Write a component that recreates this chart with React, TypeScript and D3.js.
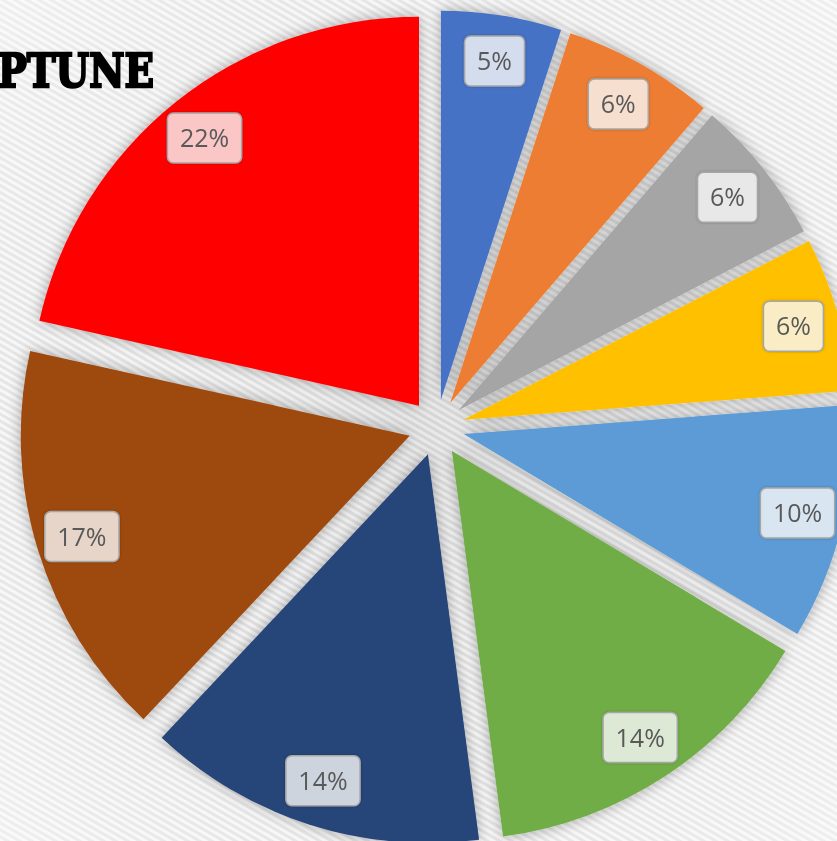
import React, { useEffect, useRef } from "react";
import * as d3 from "d3";

const categories = ["Slice 1", "Slice 2", "Slice 3", "Slice 4", "Slice 5", "Slice 6", "Slice 7", "Slice 8", "Slice 9"];
const values = [5.0, 6.3, 6.1, 6.4, 9.8, 14.3, 14.1, 16.5, 21.5];
const labels = ["5%", "6%", "6%", "6%", "10%", "14%", "14%", "17%", "22%"];
const colors = ["#4472C4", "#ED7D31", "#A5A5A5", "#FFC000", "#5B9BD5", "#70AD47", "#264478", "#9E480E", "#FF0000"];
const title = "NEPTUNE";

const W = 837;
const H = 841;
const CX = 436.5;
const CY = 427.5;
const R = 389;
const EXPLODE = 28;
const LABEL_R = 343;

export default function App() {
  const ref = useRef<SVGSVGElement | null>(null);

  useEffect(() => {
    const svg = d3.select(ref.current);
    svg.selectAll("*").remove();

    const defs = svg.append("defs");
    const pat = defs
      .append("pattern")
      .attr("id", "stripes")
      .attr("patternUnits", "userSpaceOnUse")
      .attr("width", 6)
      .attr("height", 6)
      .attr("patternTransform", "rotate(30)");
    pat.append("rect").attr("width", 6).attr("height", 6).attr("fill", "#e2e2e2");
    pat.append("rect").attr("width", 6).attr("height", 3).attr("fill", "#f6f6f6");

    const rg = defs
      .append("radialGradient")
      .attr("id", "glow")
      .attr("cx", "50%")
      .attr("cy", "50%")
      .attr("r", "75%");
    rg.append("stop").attr("offset", "0%").attr("stop-color", "#000").attr("stop-opacity", 0.06);
    rg.append("stop").attr("offset", "55%").attr("stop-color", "#fff").attr("stop-opacity", 0);
    rg.append("stop").attr("offset", "100%").attr("stop-color", "#fff").attr("stop-opacity", 0.5);

    const f = defs
      .append("filter")
      .attr("id", "shadow")
      .attr("x", "-20%")
      .attr("y", "-20%")
      .attr("width", "140%")
      .attr("height", "140%");
    f.append("feGaussianBlur").attr("in", "SourceAlpha").attr("stdDeviation", 7).attr("result", "b");
    f.append("feFlood").attr("flood-color", "#000").attr("flood-opacity", 0.32).attr("result", "c");
    f.append("feComposite").attr("in", "c").attr("in2", "b").attr("operator", "in").attr("result", "s");
    const m = f.append("feMerge");
    m.append("feMergeNode").attr("in", "s");
    m.append("feMergeNode").attr("in", "SourceGraphic");

    const lf = defs
      .append("filter")
      .attr("id", "lshadow")
      .attr("x", "-20%")
      .attr("y", "-20%")
      .attr("width", "140%")
      .attr("height", "140%");
    lf.append("feDropShadow").attr("dx", 0).attr("dy", 0).attr("stdDeviation", 1.2).attr("flood-color", "#000").attr("flood-opacity", 0.25);

    svg.append("rect").attr("width", W).attr("height", H).attr("fill", "url(#stripes)");
    svg.append("rect").attr("width", W).attr("height", H).attr("fill", "url(#glow)");

    const data = values.map((v, i) => ({ v, i }));
    const pie = d3
      .pie<{ v: number; i: number }>()
      .sort(null)
      .value((d) => d.v);
    const arcs = pie(data);
    const arc = d3.arc<d3.PieArcDatum<{ v: number; i: number }>>().innerRadius(0).outerRadius(R);

    const offset = (a: d3.PieArcDatum<any>) => {
      const mid = (a.startAngle + a.endAngle) / 2;
      return [CX + EXPLODE * Math.sin(mid), CY - EXPLODE * Math.cos(mid), mid];
    };

    const g = svg.append("g").attr("filter", "url(#shadow)");
    g.selectAll("path")
      .data(arcs)
      .join("path")
      .attr("d", (d) => arc(d) as string)
      .attr("transform", (d) => {
        const [x, y] = offset(d);
        return `translate(${x},${y})`;
      })
      .attr("fill", (d) => colors[d.data.i]);

    const lg = svg.append("g");
    arcs.forEach((d) => {
      const [x, y, mid] = offset(d);
      const lx = x + LABEL_R * Math.sin(mid);
      const ly = y - LABEL_R * Math.cos(mid);
      const grp = lg.append("g").attr("transform", `translate(${lx},${ly})`);
      const rect = grp.append("rect");
      const t = grp
        .append("text")
        .attr("text-anchor", "middle")
        .attr("dy", "0.36em")
        .attr("font-family", "'Open Sans', 'Liberation Sans', sans-serif")
        .attr("font-size", 25)
        .attr("fill", "#595959")
        .text(labels[d.data.i]);
      const bb = (t.node() as SVGTextElement).getBBox();
      const w = bb.width + 25;
      const h = 50;
      rect
        .attr("x", -w / 2)
        .attr("y", -h / 2)
        .attr("width", w)
        .attr("height", h)
        .attr("rx", 6)
        .attr("fill", "#fff")
        .attr("fill-opacity", 0.75)
        .attr("stroke", "#a6a6a6")
        .attr("stroke-width", 1.5)
        .attr("filter", "url(#lshadow)");
    });

    svg
      .append("text")
      .attr("transform", "translate(154,87) scale(0.84,1.02)")
      .attr("text-anchor", "end")
      .attr("font-family", "'DejaVu Serif', serif")
      .attr("font-weight", "bold")
      .attr("font-size", 46)
      .attr("fill", "#000")
      .attr("stroke", "#000")
      .attr("stroke-width", 2.4)
      .attr("stroke-linejoin", "miter")
      .text(title);
  }, []);

  return (
    <svg
      ref={ref}
      width={W}
      height={H}
      style={{ position: "absolute", left: 0, top: 0, display: "block" }}
    />
  );
}
